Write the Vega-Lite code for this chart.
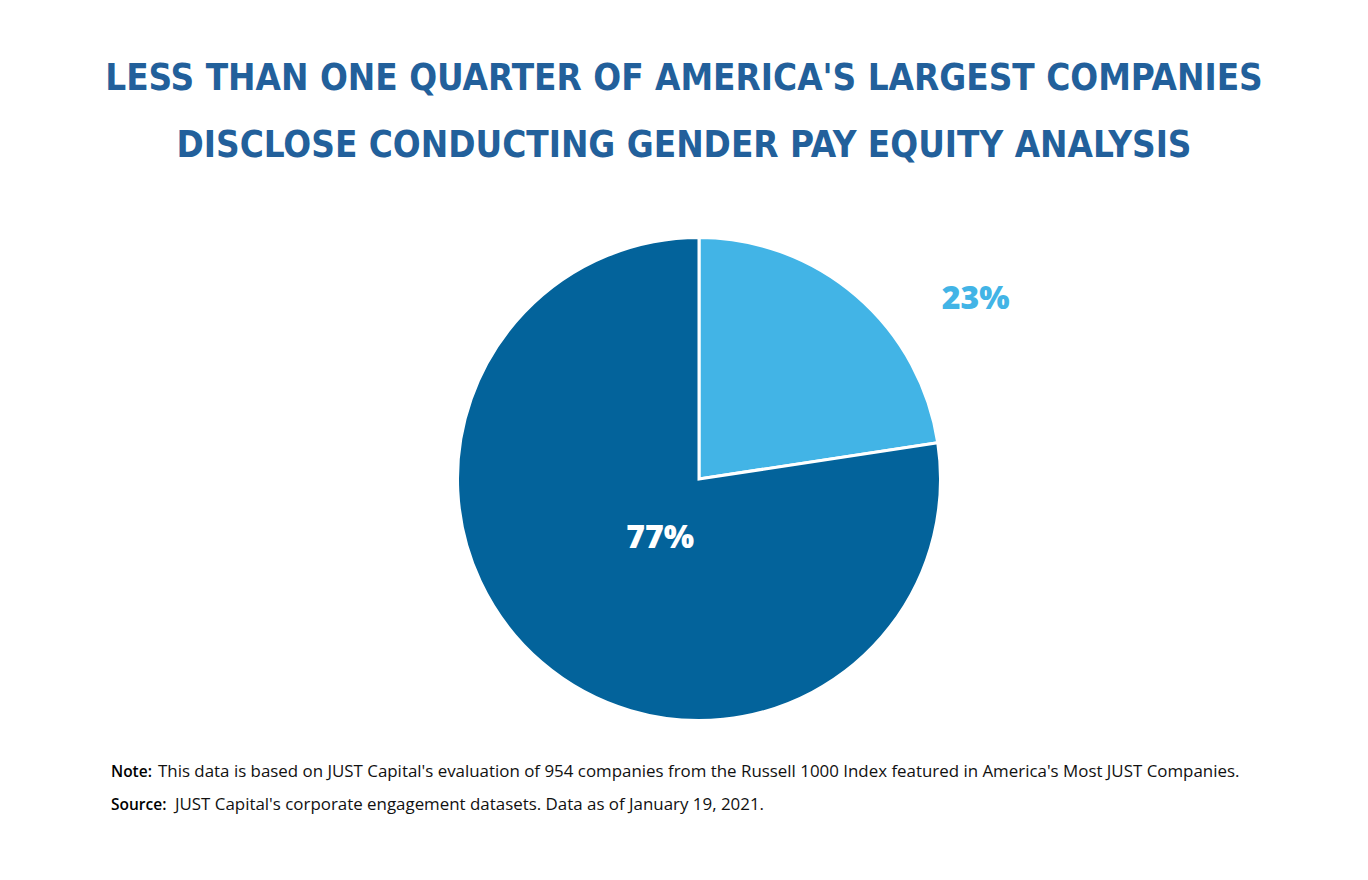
{
  "$schema": "https://vega.github.io/schema/vega-lite/v6.json",
  "width": 1368,
  "height": 558,
  "autosize": {"type": "none"},
  "padding": {"left": 0, "top": 200, "right": 0, "bottom": 122},
  "background": "white",
  "view": {"stroke": null},
  "title": {
    "text": ["LESS THAN ONE QUARTER OF AMERICA'S LARGEST COMPANIES", "DISCLOSE CONDUCTING GENDER PAY EQUITY ANALYSIS"],
    "anchor": "middle",
    "frame": "group",
    "font": "DejaVu Sans Condensed",
    "fontSize": 36.5,
    "fontWeight": "bold",
    "color": "#22609b",
    "lineHeight": 67,
    "offset": 36
  },
  "layer": [
    {
      "data": {
        "values": [
          {"category": "Disclose", "value": 22.6, "pct": "23%"},
          {"category": "Do not disclose", "value": 77.4, "pct": "77%"}
        ]
      },
      "encoding": {
        "theta": {"field": "value", "type": "quantitative", "stack": true},
        "order": {"field": "category", "type": "nominal"}
      },
      "layer": [
        {
          "mark": {"type": "arc", "outerRadius": 241.5, "stroke": "white", "strokeWidth": 3, "x": {"expr": "width/2 + 15"}, "y": {"expr": "height/2"}},
          "encoding": {
            "color": {"field": "category", "type": "nominal", "scale": {"domain": ["Disclose", "Do not disclose"], "range": ["#42b4e6", "#03639b"]}, "legend": null}
          }
        },
        {
          "mark": {"type": "text", "radius": 300, "x": {"expr": "width/2 + 15"}, "y": {"expr": "height/2"}, "dx": 81, "dy": 48, "font": "Open Sans", "fontWeight": 800, "fontSize": 32, "color": "#42b4e6", "baseline": "middle", "align": "center"},
          "encoding": {
            "text": {"condition": {"test": "datum.category === 'Disclose'", "field": "pct"}, "value": ""}
          }
        },
        {
          "mark": {"type": "text", "radius": 75, "x": {"expr": "width/2 + 15"}, "y": {"expr": "height/2"}, "dx": 10, "dy": 2, "font": "Open Sans", "fontWeight": 800, "fontSize": 32, "color": "white", "baseline": "middle", "align": "center"},
          "encoding": {
            "text": {"condition": {"test": "datum.category === 'Do not disclose'", "field": "pct"}, "value": ""}
          }
        }
      ]
    },
    {
      "data": {"values": [
        {"label": "Note:", "text": "This data is based on JUST Capital's evaluation of 954 companies from the Russell 1000 Index featured in America's Most JUST Companies.", "line": 1},
        {"label": "Source:", "text": "JUST Capital's corporate engagement datasets. Data as of January 19, 2021.", "line": 2}
      ]},
      "layer": [
        {
          "transform": [{"filter": "datum.line === 1"}],
          "mark": {"type": "text", "x": 111, "y": 577, "align": "left", "baseline": "alphabetic", "font": "Open Sans", "fontSize": 15.5, "fontWeight": 600, "color": "black"},
          "encoding": {"text": {"field": "label"}}
        },
        {
          "transform": [{"filter": "datum.line === 1"}],
          "mark": {"type": "text", "x": 158, "y": 577, "align": "left", "baseline": "alphabetic", "font": "Open Sans", "fontSize": 16.9, "color": "#111111"},
          "encoding": {"text": {"field": "text"}}
        },
        {
          "transform": [{"filter": "datum.line === 2"}],
          "mark": {"type": "text", "x": 111, "y": 610, "align": "left", "baseline": "alphabetic", "font": "Open Sans", "fontSize": 15.5, "fontWeight": 600, "color": "black"},
          "encoding": {"text": {"field": "label"}}
        },
        {
          "transform": [{"filter": "datum.line === 2"}],
          "mark": {"type": "text", "x": 175, "y": 610, "align": "left", "baseline": "alphabetic", "font": "Open Sans", "fontSize": 16.9, "color": "#111111"},
          "encoding": {"text": {"field": "text"}}
        }
      ]
    }
  ]
}
